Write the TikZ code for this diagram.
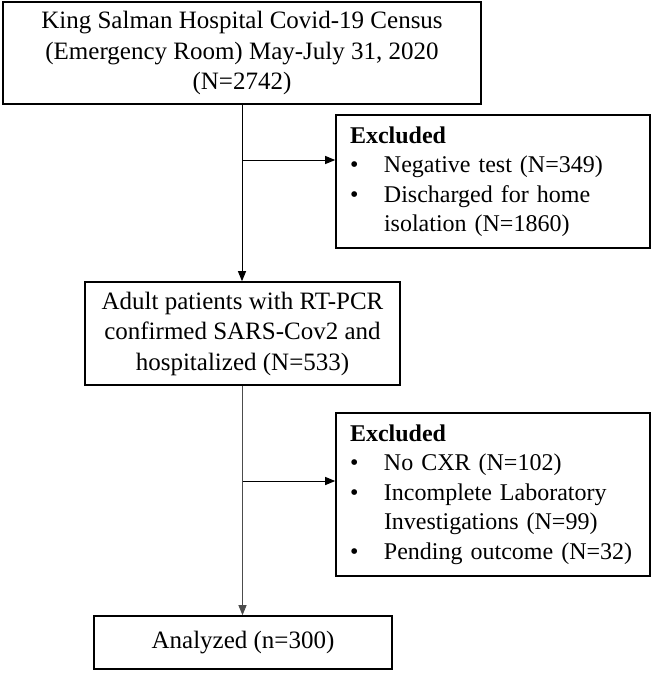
\documentclass[tikz,border=0pt]{standalone}
\usepackage{fontspec}
\setmainfont{Liberation Serif}
\usetikzlibrary{arrows.meta}
\begin{document}
\begin{tikzpicture}[x=1pt,y=-1pt,
  txt/.style={font=\fontsize{25}{30.5}\selectfont},
  extxt/.style={font=\fontsize{24}{29.5}\selectfont},
  box/.style={txt, draw=black, line width=1.6pt, align=center, inner sep=0pt},
  exbox/.style={extxt, draw=black, line width=1.6pt, align=left, inner xsep=14pt, inner ysep=0pt, text width=286pt},
  conn/.style={line width=1pt, -{Triangle[length=10pt,width=8pt]}},
  plain/.style={line width=1pt}]
\useasboundingbox (0,0) rectangle (653,673);
\newcommand{\bul}{\makebox[34pt][l]{\textbullet}}
\node[box, minimum width=478pt, minimum height=102pt] (b1) at (242,53)
  {King Salman Hospital Covid-19 Census\\(Emergency Room) May-July 31, 2020\\(N=2742)};
\node[box, minimum width=315pt, minimum height=103pt] (b2) at (242.5,333.5)
  {Adult patients with RT-PCR\\confirmed SARS-Cov2 and\\hospitalized (N=533)};
\node[box, minimum width=298pt, minimum height=53pt] (b3) at (243,642.5)
  {Analyzed (n=300)};
\node[exbox, minimum width=314pt, minimum height=133pt] (e1) at (493,181.5)
  {\textbf{Excluded}\\\bul Negative test (N=349)\\\bul Discharged for home\\\hspace*{34pt}isolation (N=1860)};
\node[exbox, minimum width=314pt, minimum height=163pt] (e2) at (493,494.5)
  {\textbf{Excluded}\\\bul No CXR (N=102)\\\bul Incomplete Laboratory\\\hspace*{34pt}Investigations (N=99)\\\bul Pending outcome (N=32)};
\coordinate (j1) at (242,160);
\coordinate (j2) at (242.5,481);
\draw[conn] (b1.south) -- (b1.south |- b2.north);
\draw[conn] (j1) -- (j1 -| e1.west);
\draw[conn, draw=black!70] (b2.south) -- (b2.south |- b3.north);
\draw[conn] (j2) -- (j2 -| e2.west);
\end{tikzpicture}
\end{document}
